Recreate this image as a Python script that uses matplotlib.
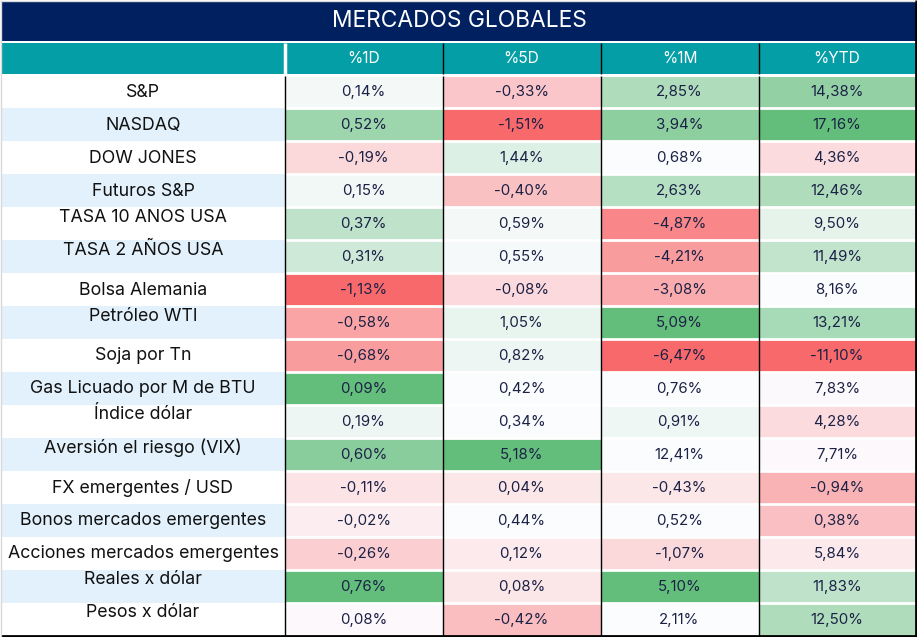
import numpy as np
import matplotlib
matplotlib.use('Agg')
from matplotlib import pyplot as plt
from matplotlib.colors import LinearSegmentedColormap, TwoSlopeNorm

title = 'MERCADOS GLOBALES'
columns = ['%1D', '%5D', '%1M', '%YTD']
labels = ['S&P', 'NASDAQ', 'DOW JONES', 'Futuros S&P', 'TASA 10 ANOS USA', 'TASA 2 AÑOS USA',
          'Bolsa Alemania', 'Petróleo WTI', 'Soja por Tn', 'Gas Licuado por M de BTU', 'Índice dólar',
          'Aversión el riesgo (VIX)', 'FX emergentes / USD', 'Bonos mercados emergentes',
          'Acciones mercados emergentes', 'Reales x dólar', 'Pesos x dólar']

d1 = ['0,14%', '0,52%', '-0,19%', '0,15%', '0,37%', '0,31%', '-1,13%', '-0,58%', '-0,68%',
      '0,09%', '0,19%', '0,60%', '-0,11%', '-0,02%', '-0,26%', '0,76%', '0,08%']
d5 = ['-0,33%', '-1,51%', '1,44%', '-0,40%', '0,59%', '0,55%', '-0,08%', '1,05%', '0,82%',
      '0,42%', '0,34%', '5,18%', '0,04%', '0,44%', '0,12%', '0,08%', '-0,42%']
m1 = ['2,85%', '3,94%', '0,68%', '2,63%', '-4,87%', '-4,21%', '-3,08%', '5,09%', '-6,47%',
      '0,76%', '0,91%', '12,41%', '-0,43%', '0,52%', '-1,07%', '5,10%', '2,11%']
ytd = ['14,38%', '17,16%', '4,36%', '12,46%', '9,50%', '11,49%', '8,16%', '13,21%', '-11,10%',
       '7,83%', '4,28%', '7,71%', '-0,94%', '0,38%', '5,84%', '11,83%', '12,50%']

# colour strength of each cell, -1 red .. 1 green
heat_d1 = [.05, .62, -.25, .07, .4, .3, -1, -.6, -.65, 1, .1, .75, -.17, -.1, -.31, 1, -.03]
heat_d5 = [-.36, -1, .2, -.4, .05, .04, -.24, .13, .09, 0, 0, 1, -.15, 0, -.12, -.15, -.42]
heat_m1 = [.5, .72, 0, .46, -.8, -.65, -.55, 1, -1, 0, .08, 0, -.15, 0, -.25, 1, 0]
heat_ytd = [.68, 1, -.22, .5, .15, .38, 0, .55, -1, -.02, -.22, -.03, -.5, -.41, -.13, .4, .5]

NAVY = '#002060'
TEAL = '#049FA6'
BAND = '#E2F1FC'
INK = '#111111'
VALUE_INK = '#1B2145'
FONT = ['Inter', 'DejaVu Sans']

# these labels sit high in their row in the original
raised = ['TASA 10 ANOS USA', 'TASA 2 AÑOS USA', 'Petróleo WTI', 'Índice dólar',
          'Aversión el riesgo (VIX)', 'Reales x dólar', 'Pesos x dólar']

W, H = 917, 637
fig = plt.figure(figsize=(W / 100, H / 100), dpi=100, facecolor='white')
ax = fig.add_axes([0, 0, 1, 1])
ax.set_xlim(0, W)
ax.set_ylim(H, 0)
ax.axis('off')

col_edges = np.array([284.5, 442.5, 600.5, 758.5, 915.5])
col_mid = (col_edges[:-1] + col_edges[1:]) / 2
row_edges = np.linspace(75.5, 635.5, len(labels) + 1)
row_mid = (row_edges[:-1] + row_edges[1:]) / 2

# background
ax.fill_between([1, 915.5], 1, 41, color=NAVY, lw=0)
ax.fill_between([1, 915.5], 43, 74, color=TEAL, lw=0)
for i in range(1, len(labels), 2):
    ax.fill_between([1, 284.5], row_edges[i], row_edges[i + 1], color=BAND, lw=0)

# heat cells
cmap = LinearSegmentedColormap.from_list('excel', ['#F8696B', '#FCFCFF', '#63BE7B'])
heat = np.array([heat_d1, heat_d5, heat_m1, heat_ytd]).T
ax.pcolormesh(col_edges, row_edges, heat, cmap=cmap, norm=TwoSlopeNorm(0, -1, 1))
ax.hlines(row_edges[1:-1], 284, 916, color='white', lw=2)
ax.hlines(row_edges[0] + .3, 284, 916, color='white', lw=1.5)

# separators and frame
ax.vlines(col_edges[:-1], 76, 635.5, color='black', lw=1)
ax.vlines(col_edges[1:-1], 43, 74, color='black', lw=1)
ax.vlines(284.5, 43, 74, color='white', lw=2.5)
ax.hlines(636, 1, 917, color='black', lw=2)
ax.vlines(916, 0, 637, color='black', lw=2)
ax.hlines(.5, 0, 915, color='#D9D9D9', lw=1)
ax.vlines(.5, 0, 636, color='#D9D9D9', lw=1)

# text
ax.text(459, 21, title, color='white', fontsize=16.4, ha='center', va='center', family=FONT)
for name, x in zip(columns, col_mid):
    ax.text(x, 58.5, name, color='white', fontsize=11.2, ha='center', va='center', family=FONT)

series = [d1, d5, m1, ytd]
for i, name in enumerate(labels):
    y = row_mid[i] - (6.5 if name in raised else -0.5)
    ax.text(143, y, name, color=INK, fontsize=12.8, ha='center', va='center', family=FONT)
    for j, x in enumerate(col_mid):
        ax.text(x, row_mid[i] + .5, series[j][i], color=VALUE_INK, fontsize=10.8, ha='center', va='center',
                family=FONT)

plt.savefig('out.png', dpi=100)
